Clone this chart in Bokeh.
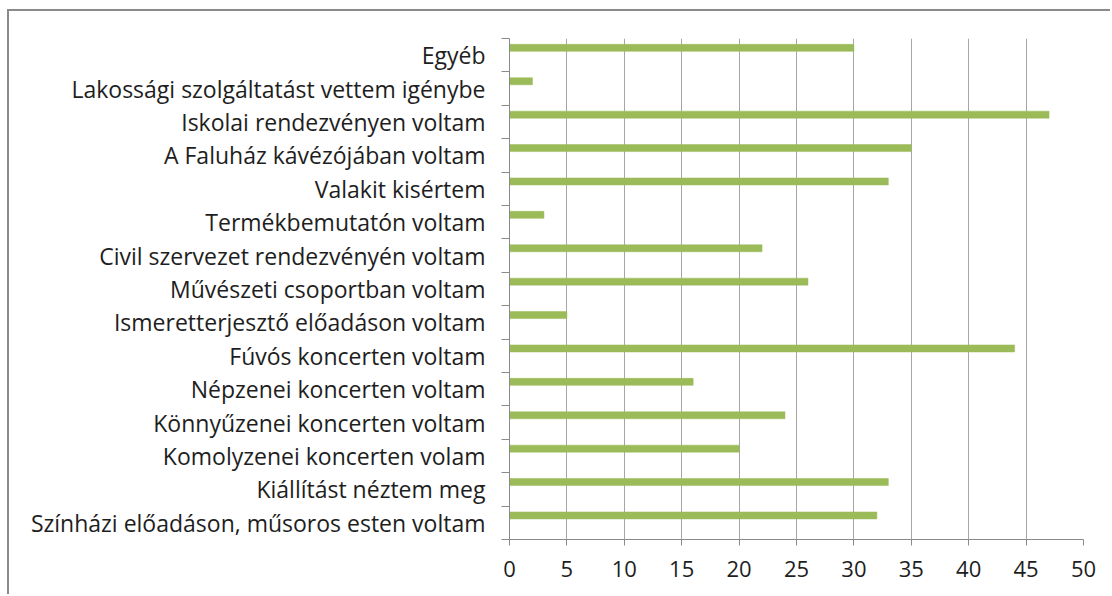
from bokeh.plotting import figure
from bokeh.models import Range1d, FixedTicker, ColumnDataSource
from bokeh.embed import file_html
from bokeh.resources import INLINE

# categories listed bottom to top (as Excel draws them)
categories = [
    "Színházi előadáson, műsoros esten voltam",
    "Kiállítást néztem meg",
    "Komolyzenei koncerten volam",
    "Könnyűzenei koncerten voltam",
    "Népzenei koncerten voltam",
    "Fúvós koncerten voltam",
    "Ismeretterjesztő előadáson voltam",
    "Művészeti csoportban voltam",
    "Civil szervezet rendezvényén voltam",
    "Termékbemutatón voltam",
    "Valakit kisértem",
    "A Faluház kávézójában voltam",
    "Iskolai rendezvényen voltam",
    "Lakossági szolgáltatást vettem igénybe",
    "Egyéb",
]
values = [32, 33, 20, 24, 16, 44, 5, 26, 22, 3, 33, 35, 47, 2, 30]
x_ticks = [0, 5, 10, 15, 20, 25, 30, 35, 40, 45, 50]

n = len(categories)
centers = [i + 0.5 for i in range(n)]
bar_pos = [c + 0.22 for c in centers]

src = ColumnDataSource(dict(y=bar_pos, right=values))

p = figure(
    output_backend="svg", toolbar_location=None,
    frame_width=574, frame_height=501,
    min_border_left=500, min_border_right=27,
    min_border_top=27, min_border_bottom=55,
    x_range=Range1d(0, 50), y_range=Range1d(0, n),
    background_fill_color="white", border_fill_color="white",
)
p.styles = {"margin-left": "7px", "margin-top": "9px",
            "border-left": "2px solid #8a8a8a", "border-top": "2px solid #8a8a8a"}
p.outline_line_color = None

p.hbar(y="y", left=0, right="right", height=0.21, source=src,
       fill_color="#9bbb59", line_color="#9bbb59", line_width=0.5)

font = "Open Sans"
txt = "#1e1e1e"
axc = "#8a8a8a"

# x axis
p.xaxis.ticker = FixedTicker(ticks=x_ticks)
p.xaxis.axis_line_color = axc
p.xaxis.major_tick_line_color = axc
p.xaxis.major_tick_out = 6
p.xaxis.major_tick_in = 0
p.xaxis.minor_tick_line_color = None
p.xaxis.major_label_text_font = font
p.xaxis.major_label_text_font_size = "22px"
p.xaxis.major_label_text_color = txt
p.xaxis.major_label_standoff = 15

# y axis
p.yaxis.ticker = FixedTicker(ticks=centers, minor_ticks=list(range(n + 1)))
p.yaxis.major_label_overrides = {c: lab for c, lab in zip(centers, categories)}
p.yaxis.axis_line_color = axc
p.yaxis.major_tick_line_color = None
p.yaxis.major_tick_out = 0
p.yaxis.major_tick_in = 0
p.yaxis.minor_tick_line_color = axc
p.yaxis.minor_tick_out = 8
p.yaxis.minor_tick_in = 0
p.yaxis.major_label_text_font = font
p.yaxis.major_label_text_font_size = "23px"
p.yaxis.major_label_text_color = txt
p.yaxis.major_label_standoff = 16

p.xgrid.grid_line_color = "#a6a6a6"
p.xgrid.ticker = FixedTicker(ticks=x_ticks)
p.ygrid.grid_line_color = None

open("out.html", "w").write(file_html(p, INLINE))
